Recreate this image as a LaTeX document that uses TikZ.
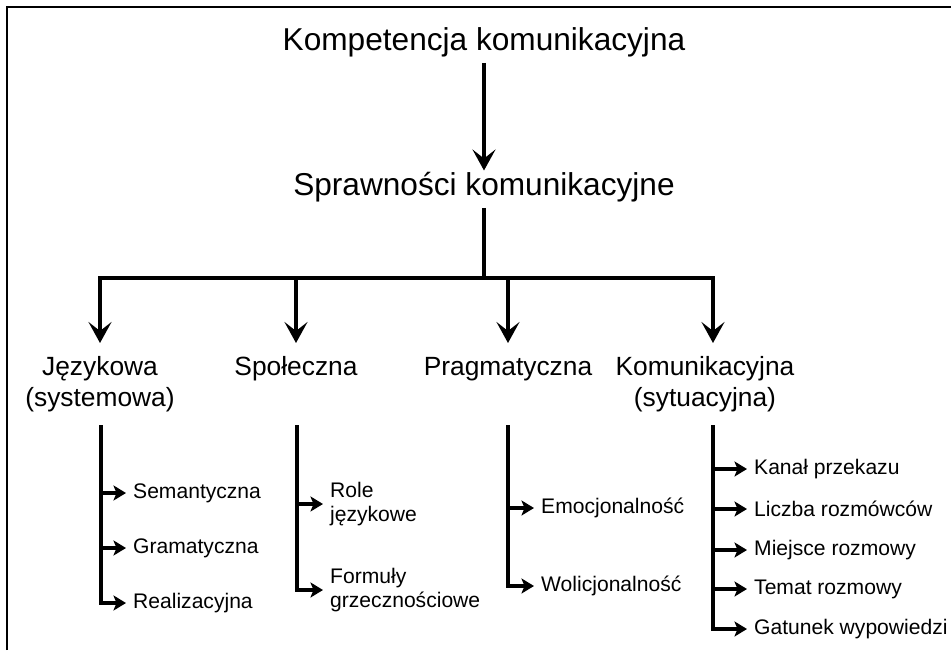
\documentclass[tikz,border=0pt]{standalone}
\usepackage{fontspec}
\setmainfont{Liberation Sans}
\usetikzlibrary{arrows.meta}
\begin{document}
\begin{tikzpicture}[x=0.02cm, y=-0.02cm,
    main/.style={line width=2.8pt},
    bigtip/.style={-{Stealth[length=0.42cm,width=0.46cm,inset=0.18cm]}},
    sub/.style={line width=2.2pt},
    smalltip/.style={-{Stealth[length=0.25cm,width=0.3cm,inset=0.06cm]}, shorten >=0.02cm},
    head/.style={font=\fontsize{18}{21}\selectfont},
    cat/.style={font=\fontsize{15}{18}\selectfont, align=center, anchor=north,
                execute at begin node=\strut},
    item/.style={font=\fontsize{12}{13.5}\selectfont, align=left, anchor=west}]

  \useasboundingbox (0,0) rectangle (951,650);

  % frame (top and left edge only)
  \draw[line width=1.4pt] (7,650) -- (7,7) -- (951,7);

  % top levels
  \node[head, anchor=base] (komp) at (484,50) {Kompetencja komunikacyjna};
  \node[head, anchor=base] (spraw) at (484,195) {Sprawności komunikacyjne};
  \draw[main, bigtip, shorten >=-0.1cm] (komp) -- (spraw);

  % fork to the four competences
  \coordinate (fork) at (484,278);
  \draw[main] (spraw) -- (fork);

  \node[cat] (jez) at (100,350) {Językowa\\(systemowa)};
  \node[cat] (spol) at (296,347) {Społeczna};
  \node[cat] (prag) at (508,347) {Pragmatyczna};
  \node[cat] (kom) at (705,350) {Komunikacyjna\\(sytuacyjna)};

  \draw[main, bigtip, shorten >=0.14cm] (fork) -| (jez.north);
  \draw[main, bigtip, shorten >=0.08cm] (fork) -| (spol.north);
  \draw[main, bigtip, shorten >=0.08cm] (fork) -| (prag.north);
  \draw[main, bigtip, shorten >=0.14cm] (fork) -| ([xshift=0.16cm]kom.north);

  % Jezykowa
  \coordinate (jez0) at (101,425);
  \node[item] (sem) at (127,493) {Semantyczna};
  \node[item] (gram) at (127,548) {Gramatyczna};
  \node[item] (real) at (127,603) {Realizacyjna};
  \draw[sub, smalltip] (jez0) |- (real.west);
  \draw[sub, smalltip] (jez0 |- sem.west) -- (sem.west);
  \draw[sub, smalltip] (jez0 |- gram.west) -- (gram.west);

  % Spoleczna
  \coordinate (spol0) at (297,425);
  \node[item] (role) at (324,504) {Role\\językowe};
  \node[item] (form) at (324,590) {Formuły\\grzecznościowe};
  \draw[sub, smalltip] (spol0) |- (form.west);
  \draw[sub, smalltip] (spol0 |- role.west) -- (role.west);

  % Pragmatyczna
  \coordinate (prag0) at (508,425);
  \node[item] (emo) at (535,508) {Emocjonalność};
  \node[item] (wol) at (535,586) {Wolicjonalność};
  \draw[sub, smalltip] (prag0) |- (wol.west);
  \draw[sub, smalltip] (prag0 |- emo.west) -- (emo.west);

  % Komunikacyjna
  \coordinate (kom0) at (713,425);
  \node[item] (kan) at (748,469) {Kanał przekazu};
  \node[item] (licz) at (748,509) {Liczba rozmówców};
  \node[item] (miej) at (748,550) {Miejsce rozmowy};
  \node[item] (tem) at (748,589) {Temat rozmowy};
  \node[item] (gat) at (748,629) {Gatunek wypowiedzi};
  \draw[sub, smalltip] (kom0) |- (gat.west);
  \draw[sub, smalltip] (kom0 |- kan.west) -- (kan.west);
  \draw[sub, smalltip] (kom0 |- licz.west) -- (licz.west);
  \draw[sub, smalltip] (kom0 |- miej.west) -- (miej.west);
  \draw[sub, smalltip] (kom0 |- tem.west) -- (tem.west);
\end{tikzpicture}
\end{document}
